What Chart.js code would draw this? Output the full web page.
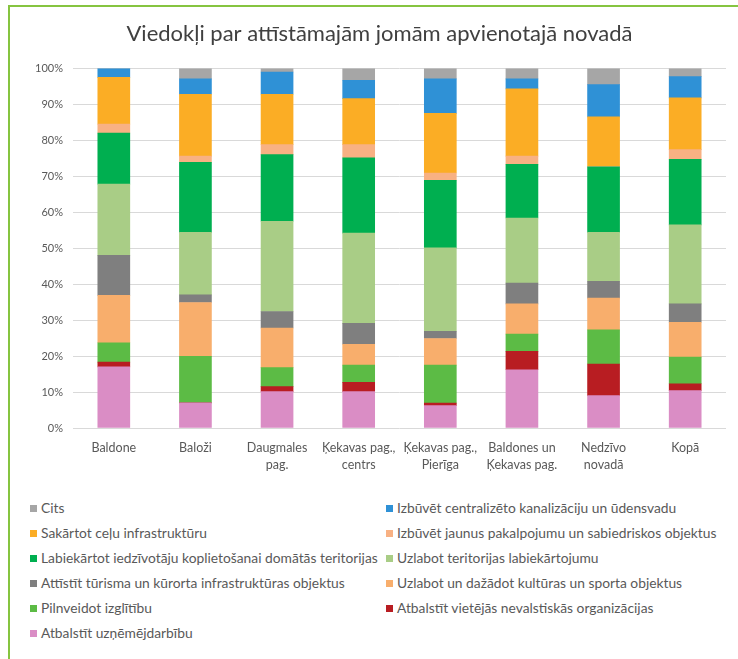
<!DOCTYPE html>
<html>
<head>
<meta charset="utf-8">
<script src="https://cdn.jsdelivr.net/npm/chart.js@4"></script>
<style>
  html, body { margin: 0; padding: 0; background: #fff; }
  #wrap { position: relative; width: 738px; height: 659px; overflow: hidden; background: #fff; }
  #c { position: absolute; left: 0; top: 0; }
  .bt { position: absolute; left: 8px; top: 5px; width: 730px; height: 2px; background: #86C440; }
  .bl { position: absolute; left: 8px; top: 5px; width: 2px; height: 654px; background: #86C440; }
  #legend { position: absolute; left: 0; top: 495px; width: 738px; font-family: Lato, "Open Sans", sans-serif; font-size: 13.8px; color: #595959; }
  .li { position: absolute; height: 25px; line-height: 25px; white-space: nowrap; }
  .li i { display: inline-block; width: 7px; height: 7px; margin-right: 4px; vertical-align: 1px; }
</style>
</head>
<body>
<div id="wrap">
  <canvas id="c" width="738" height="490" style="width:738px;height:490px"></canvas>
  <div class="bt"></div>
  <div class="bl"></div>
  <div id="legend"></div>
</div>
<script>
const categories = [
  ["Baldone"], ["Baloži"], ["Daugmales", "pag."], ["Ķekavas pag.,", "centrs"],
  ["Ķekavas pag.,", "Pierīga"], ["Baldones un", "Ķekavas pag."], ["Nedzīvo", "novadā"], ["Kopā"]
];
const yTickLabels = ["0%", "10%", "20%", "30%", "40%", "50%", "60%", "70%", "80%", "90%", "100%"];

// series values (percent), bottom of stack first
const uznemejdarbiba = [17.0, 7.0, 10.1, 10.1, 6.2, 16.2, 9.0, 10.4];
const nvo            = [1.3, 0.0, 1.4, 2.6, 0.7, 5.1, 8.8, 1.9];
const izglitiba      = [5.4, 12.9, 5.3, 4.8, 10.6, 4.8, 9.5, 7.4];
const kultura        = [13.2, 15.0, 11.0, 5.8, 7.4, 8.4, 8.8, 9.7];
const turisms        = [11.1, 2.1, 4.6, 5.8, 2.0, 5.8, 4.7, 5.1];
const teritorija     = [19.8, 17.4, 25.1, 25.1, 23.2, 18.1, 13.6, 22.0];
const labiekartot    = [14.2, 19.5, 18.5, 20.9, 18.8, 14.9, 18.2, 18.2];
const jaunusObjektus = [2.5, 1.7, 2.8, 3.7, 2.0, 2.3, 0.2, 2.7];
const celi           = [13.0, 17.2, 14.0, 12.8, 16.6, 18.7, 13.7, 14.4];
const kanalizacija   = [2.5, 4.3, 6.2, 5.1, 9.6, 2.8, 9.0, 5.9];
const cits           = [0.0, 2.9, 1.0, 3.3, 2.9, 2.9, 4.5, 2.3];

const seriesNames = [
  "Atbalstīt uzņēmējdarbību",
  "Atbalstīt vietējās nevalstiskās organizācijas",
  "Pilnveidot izglītību",
  "Uzlabot un dažādot kultūras un sporta objektus",
  "Attīstīt tūrisma un kūrorta infrastruktūras objektus",
  "Uzlabot teritorijas labiekārtojumu",
  "Labiekārtot iedzīvotāju koplietošanai domātās teritorijas",
  "Izbūvēt jaunus pakalpojumu un sabiedriskos objektus",
  "Sakārtot ceļu infrastruktūru",
  "Izbūvēt centralizēto kanalizāciju un ūdensvadu",
  "Cits"
];
const seriesData = [uznemejdarbiba, nvo, izglitiba, kultura, turisms, teritorija, labiekartot, jaunusObjektus, celi, kanalizacija, cits];
const seriesColors = ["#DA8DC5", "#B81D22", "#5CBB45", "#F8AE6C", "#7F7F7F", "#A9CD86", "#00AF50", "#F8B183", "#FBAD25", "#2F91D6", "#A6A6A6"];

const datasets = seriesData.map((d, i) => ({
  label: seriesNames[i],
  data: d,
  backgroundColor: seriesColors[i],
  borderWidth: 0,
  barThickness: 32
}));

Chart.defaults.font.family = 'Lato, "Open Sans", sans-serif';

const chart = new Chart(document.getElementById('c'), {
  type: 'bar',
  data: { labels: categories, datasets },
  options: {
    responsive: false,
    animation: false,
    layout: { padding: { left: 33, right: 12, top: 0, bottom: 12 } },
    plugins: {
      legend: { display: false },
      tooltip: { enabled: false },
      title: {
        display: true,
        text: "Viedokļi par attīstāmajām jomām apvienotajā novadā",
        color: "#404040",
        font: { size: 22, weight: 'normal' },
        padding: { top: 21, bottom: 21 }
      }
    },
    scales: {
      x: {
        stacked: true,
        grid: { display: false },
        border: { display: false },
        ticks: { color: "#595959", font: { size: 12.5, lineHeight: 1.35 }, maxRotation: 0, autoSkip: false, padding: 4 },
        afterFit: s => { s.height = 50; }
      },
      y: {
        stacked: true,
        min: 0, max: 100,
        grid: { color: "#D9D9D9", drawTicks: false },
        border: { display: false },
        ticks: {
          stepSize: 10,
          color: "#595959",
          font: { size: 11 },
          padding: 10,
          callback: (v) => yTickLabels[Math.round(v / 10)]
        },
        afterFit: s => { s.width = 40; }
      }
    }
  }
});

// two-column legend, top series first (as in the reference)
const legend = document.getElementById('legend');
const order = seriesNames.map((_, i) => seriesNames.length - 1 - i);
order.forEach((idx, k) => {
  const row = Math.floor(k / 2), col = k % 2;
  const el = document.createElement('div');
  el.className = 'li';
  el.style.left = (col === 0 ? 30 : 386) + 'px';
  el.style.top = (row * 25) + 'px';
  const sw = document.createElement('i');
  sw.style.background = seriesColors[idx];
  el.appendChild(sw);
  el.appendChild(document.createTextNode(seriesNames[idx]));
  legend.appendChild(el);
});
</script>
</body>
</html>
